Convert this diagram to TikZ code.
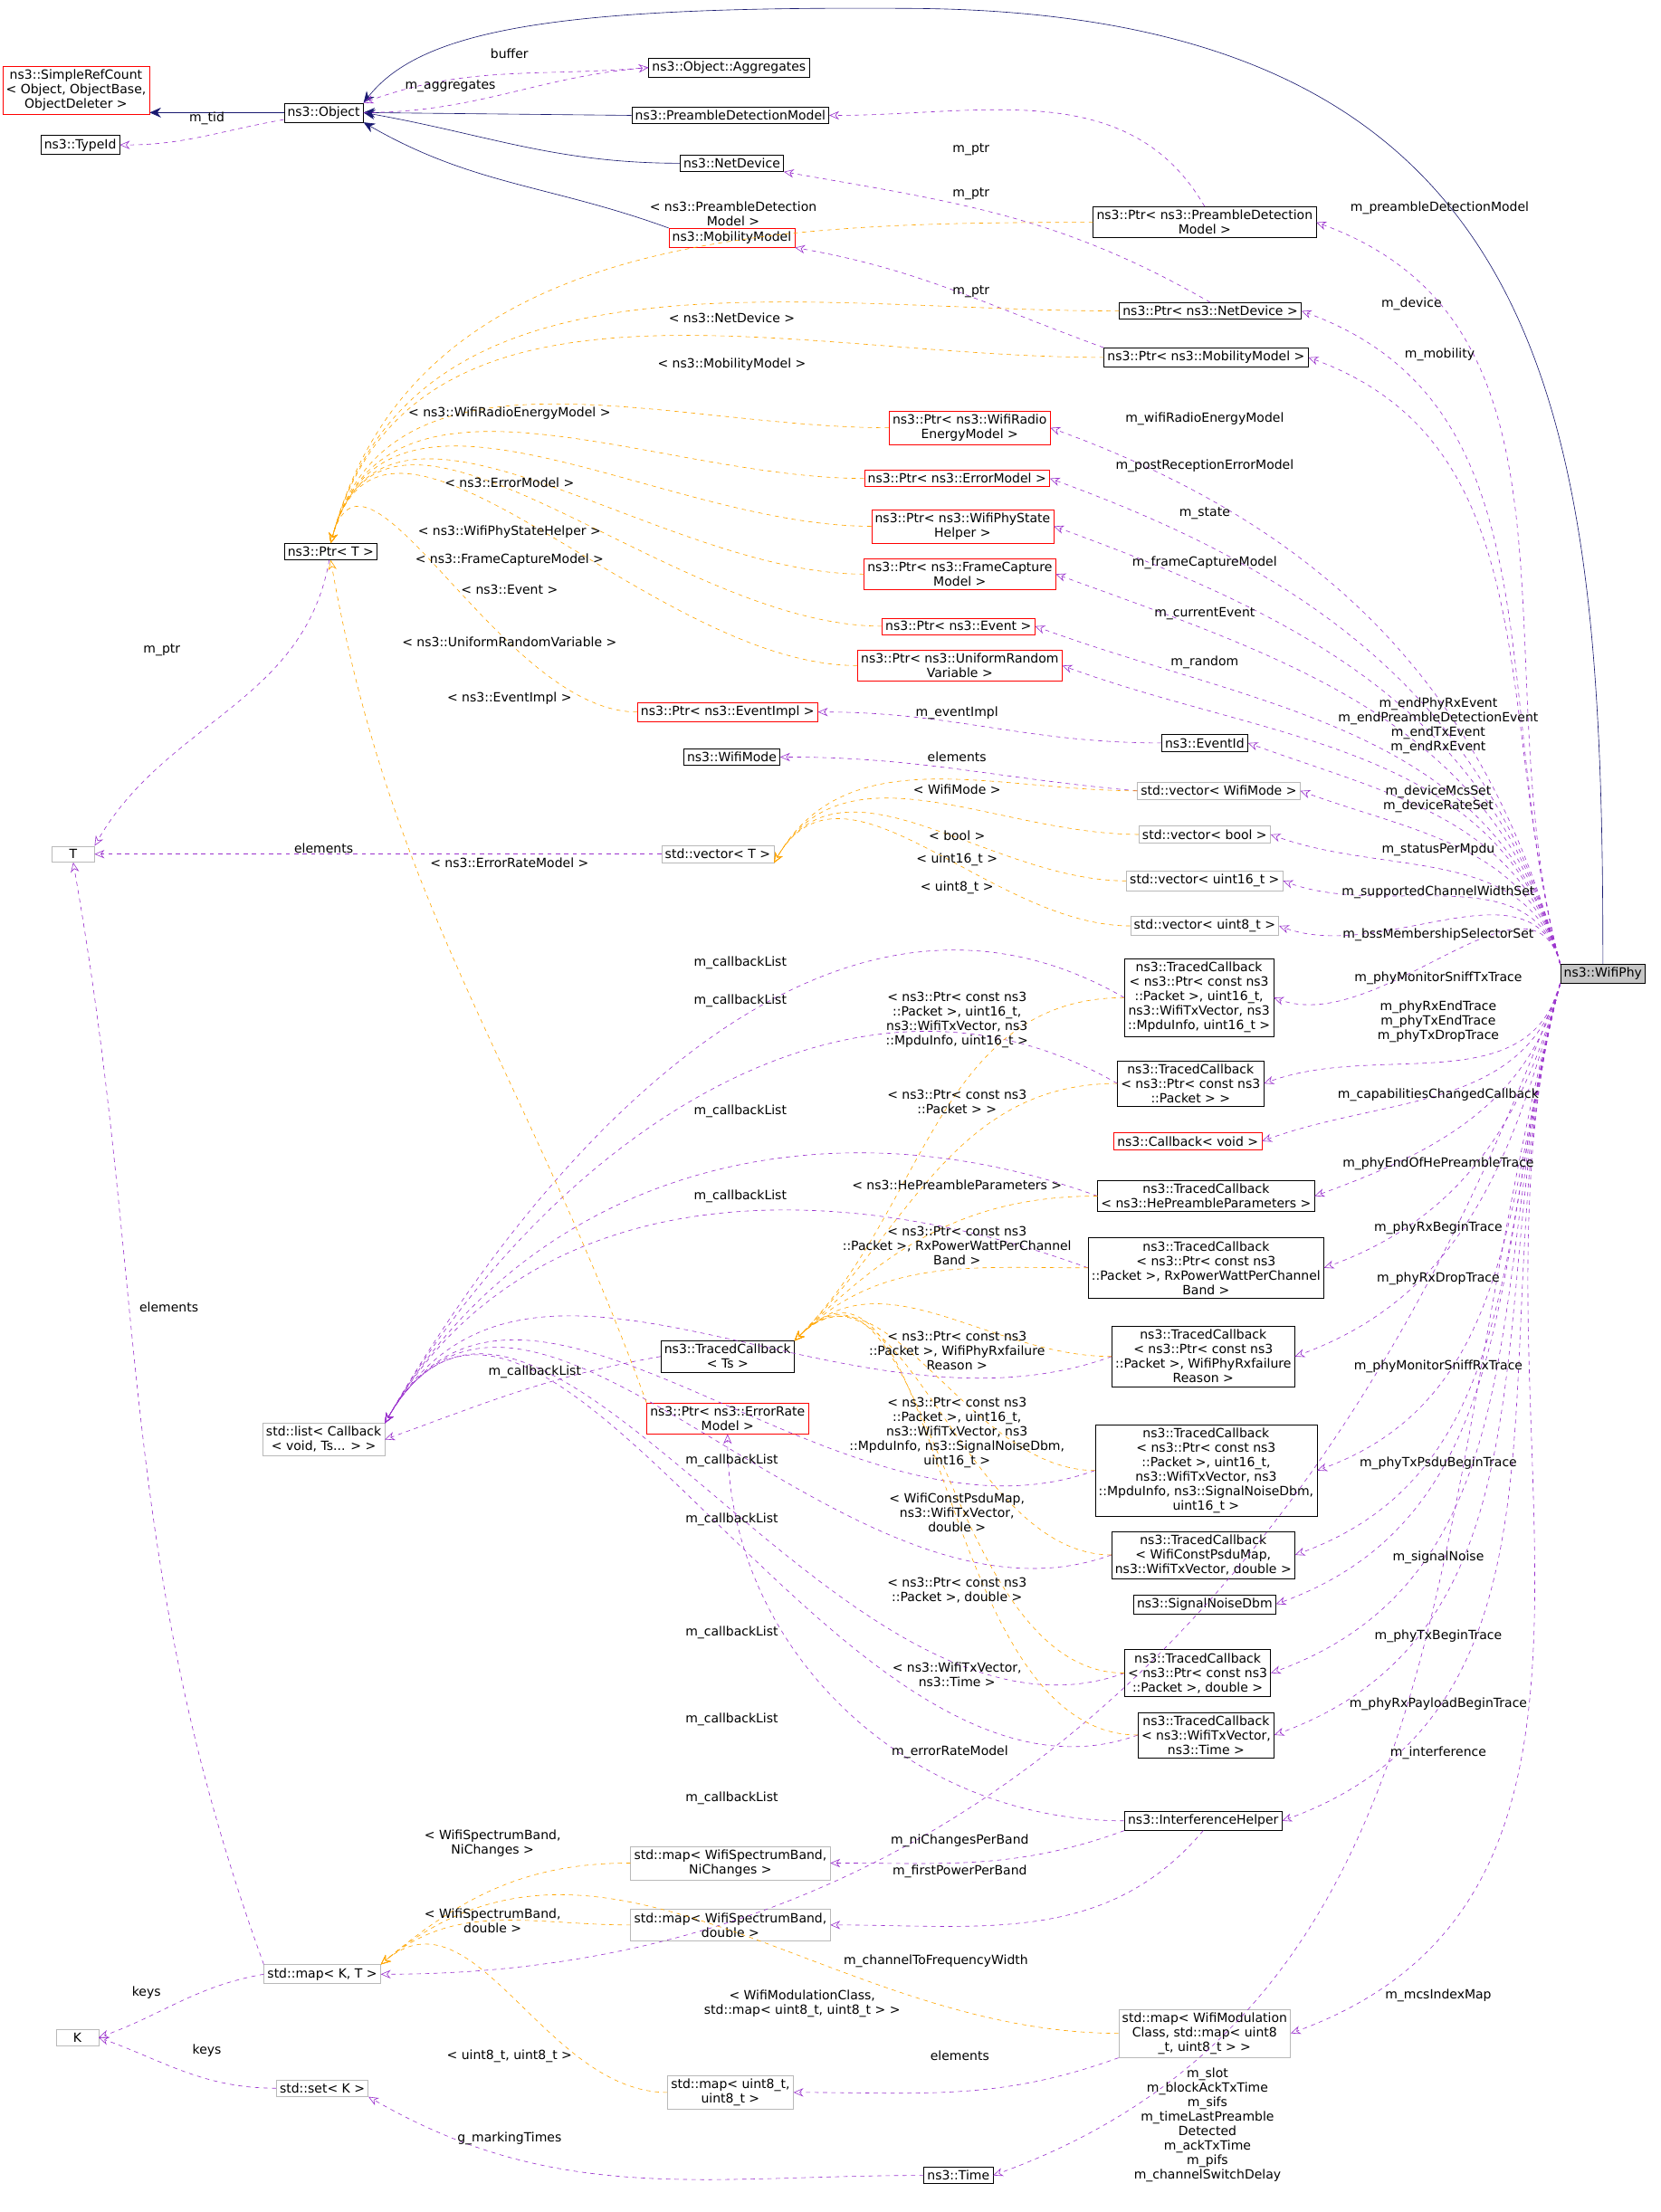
\documentclass[tikz,border=0pt]{standalone}
\usepackage{fontspec}
\setmainfont{DejaVu Sans}
\usetikzlibrary{arrows.meta}
\definecolor{usecol}{HTML}{9A32CD}
\definecolor{tplcol}{HTML}{FFA500}
\definecolor{inhcol}{HTML}{191970}
\newcommand{\dx}{\fontsize{9}{10.3}\selectfont}
\tikzset{
  cls/.style={draw=black, fill=white, font=\dx, align=center, inner sep=2.4pt},
  redcls/.style={cls, draw=red},
  graycls/.style={cls, draw=gray!55},
  lbl/.style={font=\dx, align=center, inner sep=0pt},
  use/.style={draw=usecol, dashed, -{Stealth[open,length=7pt,width=6pt]}},
  tpl/.style={draw=tplcol, dashed, -{Stealth[open,length=7pt,width=6pt]}},
  inh/.style={draw=inhcol, -{Stealth[length=8pt,width=7pt]}}
}
\begin{document}
\begin{tikzpicture}[x=1pt,y=-1pt]
  \useasboundingbox (0,0) rectangle (1180,1572);
  % classes
  \node[cls, fill=gray!45] (WifiPhy) at (1139,692) {ns3::WifiPhy};
  \node[cls] (Object) at (230,80) {ns3::Object};
  \node[redcls] (SimpleRefCount) at (54,64) {ns3::SimpleRefCount\\< Object, ObjectBase,\\ObjectDeleter >};
  \node[cls] (TypeId) at (57,103) {ns3::TypeId};
  \node[cls] (Aggregates) at (518,48) {ns3::Object::Aggregates};
  \node[cls] (PreambleModel) at (519,82) {ns3::PreambleDetectionModel};
  \node[cls] (NetDevice) at (520,116) {ns3::NetDevice};
  \node[redcls] (MobilityModel) at (520,169) {ns3::MobilityModel};
  \node[cls] (PtrPreamble) at (856,158) {ns3::Ptr< ns3::PreambleDetection\\Model >};
  \node[cls] (PtrNetDevice) at (860,221) {ns3::Ptr< ns3::NetDevice >};
  \node[cls] (PtrMobility) at (857,254) {ns3::Ptr< ns3::MobilityModel >};
  \node[redcls] (PtrRadio) at (689,304) {ns3::Ptr< ns3::WifiRadio\\EnergyModel >};
  \node[redcls] (PtrErrorModel) at (680,340) {ns3::Ptr< ns3::ErrorModel >};
  \node[redcls] (PtrState) at (684,374) {ns3::Ptr< ns3::WifiPhyState\\Helper >};
  \node[redcls] (PtrCapture) at (682,408) {ns3::Ptr< ns3::FrameCapture\\Model >};
  \node[redcls] (PtrEvent) at (681,445) {ns3::Ptr< ns3::Event >};
  \node[redcls] (PtrRandom) at (682,473) {ns3::Ptr< ns3::UniformRandom\\Variable >};
  \node[redcls] (PtrEventImpl) at (517,506) {ns3::Ptr< ns3::EventImpl >};
  \node[cls] (PtrT) at (235,392) {ns3::Ptr< T >};
  \node[cls] (EventId) at (856,528) {ns3::EventId};
  \node[cls] (WifiMode) at (520,538) {ns3::WifiMode};
  \node[graycls] (VecMode) at (866,562) {std::vector< WifiMode >};
  \node[graycls] (VecBool) at (856,593) {std::vector< bool >};
  \node[graycls] (VecT) at (510,607) {std::vector< T >};
  \node[graycls] (VecU16) at (856,626) {std::vector< uint16\_t >};
  \node[graycls] (VecU8) at (856,658) {std::vector< uint8\_t >};
  \node[graycls, minimum width=30pt] (T) at (52,607) {T};
  \node[cls] (TcMpdu) at (852,709) {ns3::TracedCallback\\< ns3::Ptr< const ns3\\::Packet >, uint16\_t,\\ ns3::WifiTxVector, ns3\\::MpduInfo, uint16\_t >};
  \node[cls] (TcPkt) at (846,770) {ns3::TracedCallback\\< ns3::Ptr< const ns3\\::Packet > >};
  \node[redcls] (CbVoid) at (844,811) {ns3::Callback< void >};
  \node[cls] (TcHe) at (857,850) {ns3::TracedCallback\\< ns3::HePreambleParameters >};
  \node[cls] (TcPower) at (857,901) {ns3::TracedCallback\\< ns3::Ptr< const ns3\\::Packet >, RxPowerWattPerChannel\\Band >};
  \node[cls] (TcFail) at (855,964) {ns3::TracedCallback\\< ns3::Ptr< const ns3\\::Packet >, WifiPhyRxfailure\\Reason >};
  \node[cls] (TcTs) at (517,964) {ns3::TracedCallback\\< Ts >};
  \node[graycls] (CbList) at (230,1023) {std::list< Callback\\< void, Ts... > >};
  \node[redcls] (PtrErrorRate) at (517,1008) {ns3::Ptr< ns3::ErrorRate\\Model >};
  \node[cls] (TcSignal) at (857,1045) {ns3::TracedCallback\\< ns3::Ptr< const ns3\\::Packet >, uint16\_t,\\ ns3::WifiTxVector, ns3\\::MpduInfo, ns3::SignalNoiseDbm,\\ uint16\_t >};
  \node[cls] (TcPsdu) at (855,1105) {ns3::TracedCallback\\< WifiConstPsduMap,\\ ns3::WifiTxVector, double >};
  \node[cls] (SignalNoise) at (856,1140) {ns3::SignalNoiseDbm};
  \node[cls] (TcDouble) at (851,1189) {ns3::TracedCallback\\< ns3::Ptr< const ns3\\::Packet >, double >};
  \node[cls] (TcTime) at (857,1233) {ns3::TracedCallback\\< ns3::WifiTxVector,\\ ns3::Time >};
  \node[cls] (Interference) at (855,1294) {ns3::InterferenceHelper};
  \node[graycls] (MapNi) at (519,1324) {std::map< WifiSpectrumBand,\\NiChanges >};
  \node[graycls] (MapDouble) at (519,1368) {std::map< WifiSpectrumBand,\\double >};
  \node[graycls] (MapKT) at (229,1403) {std::map< K, T >};
  \node[graycls, minimum width=30pt] (K) at (55,1448) {K};
  \node[graycls] (MapMod) at (856,1445) {std::map< WifiModulation\\Class, std::map< uint8\\\_t, uint8\_t > >};
  \node[graycls] (SetK) at (229,1484) {std::set< K >};
  \node[graycls] (MapU8) at (519,1487) {std::map< uint8\_t,\\uint8\_t >};
  \node[cls] (Time) at (681,1546) {ns3::Time};

  % inheritance
  \draw[inh] (Object.west) -- (SimpleRefCount.east |- Object.west);
  \draw[inh] (PreambleModel.west) -- (Object.east);
  \draw[inh] (NetDevice.west) to[out=180,in=-10] (Object.east);
  \draw[inh] (MobilityModel.north west) to[out=160,in=-30] (Object.south east);
  \draw[inh] (WifiPhy.north) .. controls (1139,300) and (1110,10) .. (650,6) .. controls (400,4) and (300,20) .. (Object.north east);

  % usage edges
  \draw[use] (Object) to[out=190,in=0] (TypeId);
  \draw[use] (Aggregates.west) to[out=185,in=20] (Object.north east);
  \draw[use] (Object.east) to[out=0,in=185] (Aggregates.west);
  \draw[use] (PtrPreamble.north) to[out=120,in=0] (PreambleModel.east);
  \draw[use] (PtrNetDevice.north) to[out=150,in=-10] (NetDevice.south east);
  \draw[use] (PtrMobility.north west) to[out=160,in=-10] (MobilityModel.south east);
  \draw[use] (PtrT) to[out=-100,in=60] (T.north east);
  \draw[use] (EventId.west) to[out=180,in=0] (PtrEventImpl.east);
  \draw[use] (VecMode.west) to[out=175,in=0] (WifiMode.east);
  \draw[use] (VecT.west) -- (T.east);
  \draw[use] (MapKT.north west) to[out=110,in=-80] (T.south);
  \draw[use] (MapKT.west) to[out=190,in=20] (K.east);
  \draw[use] (SetK.west) to[out=180,in=-20] (K.east);
  \draw[use] (TcTs.west) to[out=190,in=20] (CbList.east);
  \foreach \s/\o in {TcMpdu/150,TcPkt/150,TcHe/160,TcPower/160,TcFail/200,TcSignal/200,TcPsdu/200,TcDouble/200,TcTime/200}
    \draw[use] (\s.west) to[out=\o,in=60] (CbList.north east);
  \draw[use] (Interference.west) to[out=180,in=-90] (PtrErrorRate.south);
  \draw[use] (Interference.south west) to[out=200,in=0] (MapNi.east);
  \draw[use] (Interference.south) to[out=230,in=0] (MapDouble.east);
  \draw[use] (MapMod.south west) to[out=200,in=0] (MapU8.east);
  \draw[use] (Time.west) to[out=180,in=-30] (SetK.south east);
  \foreach \t in {PtrPreamble,PtrNetDevice,PtrMobility,PtrRadio,PtrErrorModel,PtrState,PtrCapture,PtrEvent,PtrRandom,EventId,VecMode,VecBool,VecU16,VecU8,TcMpdu}
    \draw[use] (WifiPhy.north west) to[out=105,in=-20] (\t.east);
  \foreach \t in {TcPkt,CbVoid,TcHe,TcPower,TcFail,TcSignal,TcPsdu,SignalNoise,TcDouble,TcTime,Interference,MapMod,Time}
    \draw[use] (WifiPhy.south west) to[out=-105,in=20] (\t.east);
  \draw[use] (WifiPhy.south west) to[out=-110,in=0] (MapKT.east);

  % template edges
  \foreach \s in {PtrPreamble,PtrNetDevice,PtrMobility,PtrRadio,PtrErrorModel,PtrState,PtrCapture,PtrEvent,PtrRandom,PtrEventImpl}
    \draw[tpl] (\s.west) to[out=180,in=75] (PtrT.north);
  \draw[tpl] (PtrErrorRate.north west) to[out=110,in=-80] (PtrT.south);
  \foreach \s in {VecMode,VecBool,VecU16,VecU8}
    \draw[tpl] (\s.west) to[out=180,in=60] (VecT.south east);
  \foreach \s in {TcMpdu,TcPkt,TcHe,TcPower,TcFail,TcSignal,TcPsdu,TcDouble,TcTime}
    \draw[tpl] (\s.west) to[out=180,in=45] (TcTs.north east);
  \foreach \s in {MapNi,MapDouble,MapMod,MapU8}
    \draw[tpl] (\s.west) to[out=180,in=40] (MapKT.north east);

  % edge labels
  \foreach \n/\p/\t in {
    l1/{362,38}/buffer, l2/{320,61}/m\_aggregates, l3/{147,84}/m\_tid,
    l4/{690,106}/m\_ptr, l5/{690,138}/m\_ptr, l6/{690,207}/m\_ptr, l7/{115,462}/m\_ptr,
    l8/{521,152}/{< ns3::PreambleDetection\\Model >}, l9/{520,226}/{< ns3::NetDevice >},
    l10/{520,259}/{< ns3::MobilityModel >}, l11/{362,294}/{< ns3::WifiRadioEnergyModel >},
    l12/{362,343}/{< ns3::ErrorModel >}, l13/{362,378}/{< ns3::WifiPhyStateHelper >},
    l14/{362,398}/{< ns3::FrameCaptureModel >}, l15/{362,419}/{< ns3::Event >},
    l16/{362,456}/{< ns3::UniformRandomVariable >}, l17/{362,496}/{< ns3::EventImpl >},
    l18/{362,613}/{< ns3::ErrorRateModel >}, l19/{680,507}/m\_eventImpl, l20/{680,538}/elements,
    l21/{680,561}/{< WifiMode >}, l22/{680,594}/{< bool >}, l23/{680,611}/{< uint16\_t >},
    l24/{680,631}/{< uint8\_t >}, l25/{230,603}/elements, l26/{120,929}/elements,
    l27/{680,725}/{< ns3::Ptr< const ns3\\::Packet >, uint16\_t,\\ ns3::WifiTxVector, ns3\\::MpduInfo, uint16\_t >},
    l28/{680,783}/{< ns3::Ptr< const ns3\\::Packet > >}, l29/{680,842}/{< ns3::HePreambleParameters >},
    l30/{680,885}/{< ns3::Ptr< const ns3\\::Packet >, RxPowerWattPerChannel\\Band >},
    l31/{680,960}/{< ns3::Ptr< const ns3\\::Packet >, WifiPhyRxfailure\\Reason >},
    l32/{680,1018}/{< ns3::Ptr< const ns3\\::Packet >, uint16\_t,\\ ns3::WifiTxVector, ns3\\::MpduInfo, ns3::SignalNoiseDbm,\\ uint16\_t >},
    l33/{680,1075}/{< WifiConstPsduMap,\\ ns3::WifiTxVector,\\ double >},
    l34/{680,1130}/{< ns3::Ptr< const ns3\\::Packet >, double >},
    l35/{680,1190}/{< ns3::WifiTxVector,\\ ns3::Time >},
    c1/{526,684}/m\_callbackList, c2/{526,711}/m\_callbackList, c3/{526,790}/m\_callbackList,
    c4/{526,850}/m\_callbackList, c5/{380,975}/m\_callbackList, c6/{520,1038}/m\_callbackList,
    c7/{520,1080}/m\_callbackList, c8/{520,1160}/m\_callbackList, c9/{520,1222}/m\_callbackList,
    c10/{520,1278}/m\_callbackList, l36/{675,1245}/m\_errorRateModel,
    l37/{682,1308}/m\_niChangesPerBand, l38/{682,1330}/m\_firstPowerPerBand,
    l39/{350,1310}/{< WifiSpectrumBand,\\NiChanges >}, l40/{350,1365}/{< WifiSpectrumBand,\\double >},
    l41/{570,1424}/{< WifiModulationClass,\\std::map< uint8\_t, uint8\_t > >},
    l42/{362,1461}/{< uint8\_t, uint8\_t >}, l43/{682,1461}/elements,
    l44/{104,1416}/keys, l45/{147,1457}/keys, l46/{362,1520}/g\_markingTimes,
    l47/{665,1394}/m\_channelToFrequencyWidth, l48/{1022,1418}/m\_mcsIndexMap,
    l49/{858,1510}/{m\_slot\\m\_blockAckTxTime\\m\_sifs\\m\_timeLastPreamble\\Detected\\m\_ackTxTime\\m\_pifs\\m\_channelSwitchDelay},
    w1/{1023,148}/m\_preambleDetectionModel, w2/{1003,216}/m\_device, w3/{1023,252}/m\_mobility,
    w4/{856,298}/m\_wifiRadioEnergyModel, w5/{856,331}/m\_postReceptionErrorModel,
    w6/{856,365}/m\_state, w7/{856,400}/m\_frameCaptureModel, w8/{856,436}/m\_currentEvent,
    w9/{856,471}/m\_random,
    w10/{1022,516}/{m\_endPhyRxEvent\\m\_endPreambleDetectionEvent\\m\_endTxEvent\\m\_endRxEvent},
    w11/{1022,568}/{m\_deviceMcsSet\\m\_deviceRateSet}, w12/{1022,604}/m\_statusPerMpdu,
    w13/{1022,634}/m\_supportedChannelWidthSet, w14/{1022,664}/m\_bssMembershipSelectorSet,
    w15/{1022,695}/m\_phyMonitorSniffTxTrace,
    w16/{1022,726}/{m\_phyRxEndTrace\\m\_phyTxEndTrace\\m\_phyTxDropTrace},
    w17/{1022,778}/m\_capabilitiesChangedCallback, w18/{1022,827}/m\_phyEndOfHePreambleTrace,
    w19/{1022,873}/m\_phyRxBeginTrace, w20/{1022,909}/m\_phyRxDropTrace,
    w21/{1022,971}/m\_phyMonitorSniffRxTrace, w22/{1022,1040}/m\_phyTxPsduBeginTrace,
    w23/{1022,1107}/m\_signalNoise, w24/{1022,1163}/m\_phyTxBeginTrace,
    w25/{1022,1211}/m\_phyRxPayloadBeginTrace, w26/{1022,1246}/m\_interference}
    \node[lbl] (\n) at (\p) {\t};
\end{tikzpicture}
\end{document}
